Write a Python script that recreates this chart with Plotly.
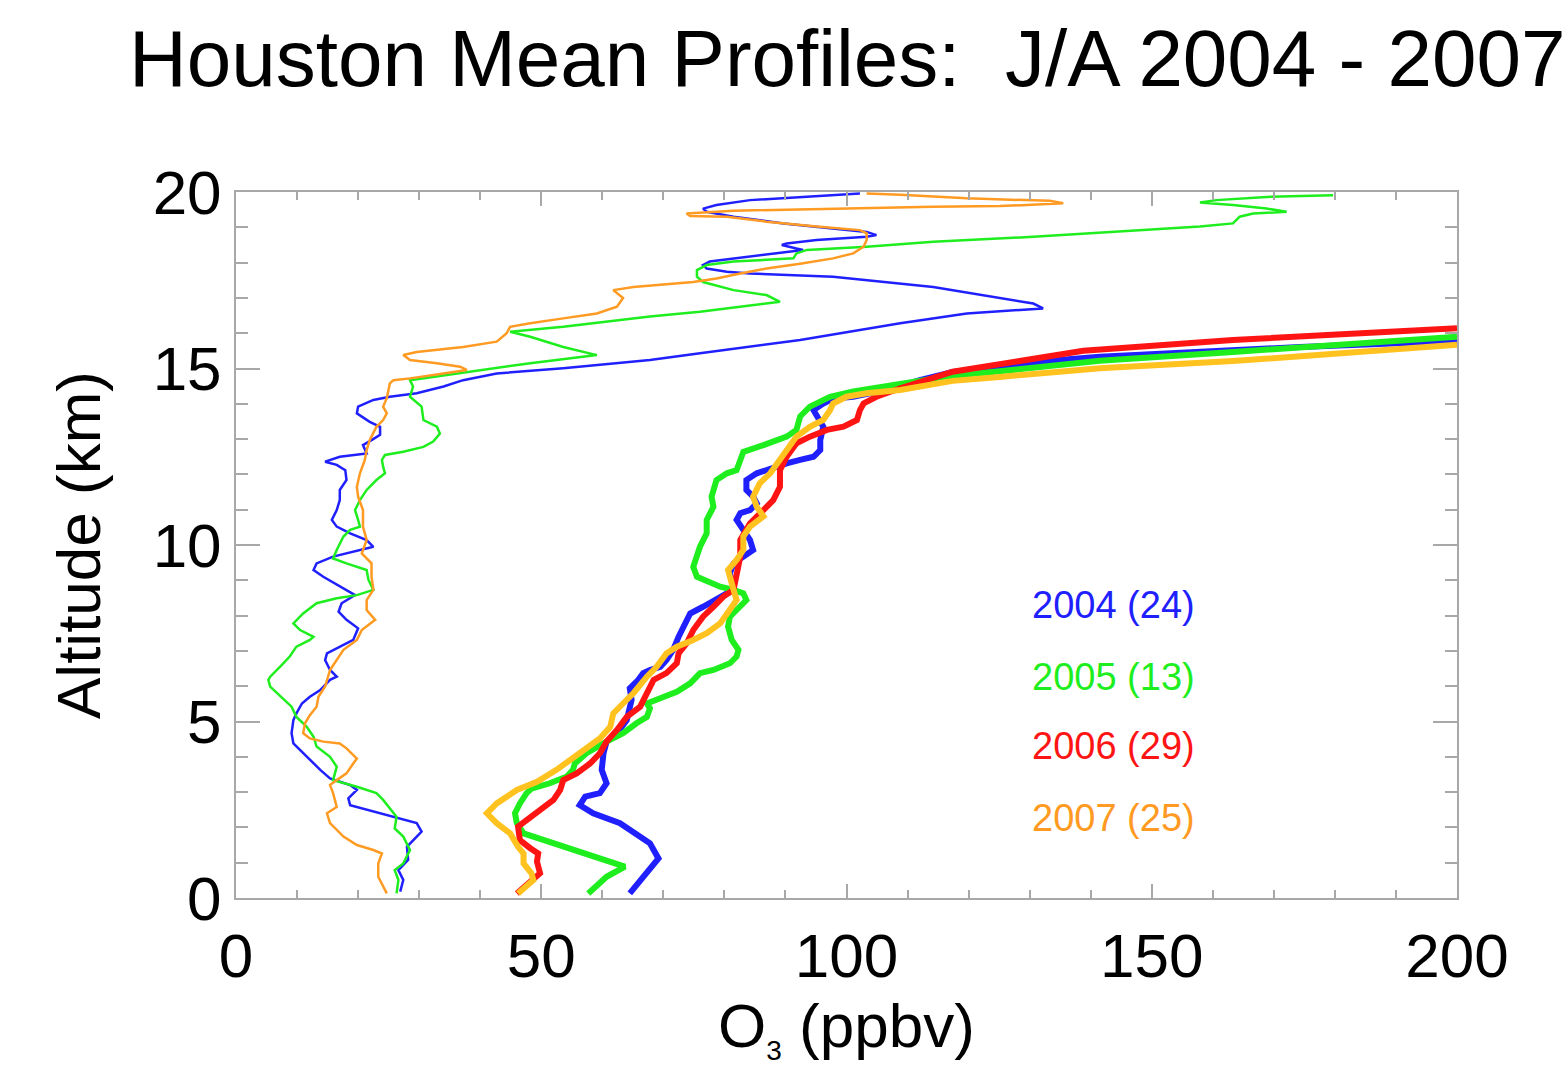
import plotly.graph_objects as go

# ---------------- data (O3 ppbv, altitude km) ----------------
# thin profiles
thin04_o3 = [26.9,27.4,26.6,28.2,28.0,28.8,30.4,29.6,26.9,22.5,18.7,18.4,19.8,18.7,15.4,13.8,12.1,10.5,9.4,9.1,9.4,9.9,10.8,12.1,13.8,15.4,16.5,15.4,14.6,14.9,17.0,19.2,20.0,18.1,16.8,17.3,19.5,17.0,14.3,12.7,13.2,15.9,19.2,22.5,21.4,18.7,16.5,15.7,16.5,17.0,17.0,18.1,17.9,16.5,14.6,17.0,21.4,20.8,22.2,23.6,23.6,21.9,19.8,20.0,22.5,25.2,29.6,34.0,37.2,42.7,53.6,59.6,67.8,76.0,92.4,108.8,119.7,132.2,130.6,114.2,97.8,84.2,80.4,77.1,76.5,77.6,84.2,91.3,92.9,91.8,89.4,90.2,95.1,103.3,104.9,103.3,97.8,89.7,81.5,77.1,76.5,78.7,84.2,92.4,102.2]
thin04_alt = [0.18,0.51,0.79,1.08,1.45,1.59,1.88,2.12,2.25,2.44,2.63,2.82,3.06,3.20,3.39,3.63,3.91,4.19,4.38,4.67,5.04,5.23,5.51,5.70,5.89,6.18,6.27,6.46,6.74,6.93,7.12,7.31,7.64,7.88,8.11,8.35,8.58,8.82,9.10,9.29,9.48,9.67,9.81,9.95,10.14,10.33,10.52,10.71,10.99,11.27,11.56,11.84,12.12,12.27,12.36,12.50,12.59,12.83,12.97,13.12,13.35,13.49,13.73,13.92,14.11,14.20,14.30,14.49,14.67,14.86,15.01,15.10,15.24,15.43,15.81,16.28,16.56,16.70,16.84,17.31,17.60,17.69,17.74,17.83,17.93,18.03,18.17,18.31,18.36,18.40,18.50,18.54,18.64,18.73,18.78,18.87,18.97,19.11,19.30,19.44,19.53,19.63,19.77,19.86,19.96]

thin05_o3 = [26.3,26.6,26.0,27.4,28.5,27.4,26.0,26.3,24.1,23.0,19.8,15.9,16.5,15.4,13.2,12.7,11.6,9.9,9.1,7.7,5.6,5.3,5.6,7.2,8.8,9.9,12.1,12.7,10.5,9.4,11.0,13.2,16.5,19.8,22.5,21.7,21.4,18.1,15.9,16.5,17.6,18.7,20.3,20.0,19.5,20.3,21.4,23.0,24.4,24.1,23.9,24.4,27.4,30.7,32.3,33.4,33.2,32.9,30.7,30.4,28.5,29.0,28.5,38.3,48.2,59.1,53.6,48.2,44.9,53.6,67.8,76.0,89.1,86.9,81.5,76.5,75.5,75.5,77.1,81.5,91.3,91.8,93.5,103.3,114.2,130.6,141.5,157.9,163.3,164.4,166.6,172.1,168.8,163.3,157.9,160.6,168.8,179.7]
thin05_alt = [0.13,0.51,0.79,0.98,1.36,1.74,1.97,2.30,2.78,2.97,3.15,3.34,3.72,4.00,4.29,4.57,4.85,5.13,5.42,5.66,5.99,6.18,6.27,6.55,6.84,7.12,7.31,7.40,7.59,7.78,8.06,8.35,8.49,8.58,8.73,9.01,9.29,9.48,9.62,9.86,10.24,10.43,10.52,10.71,10.99,11.27,11.56,11.84,12.03,12.22,12.41,12.55,12.64,12.78,12.93,13.16,13.26,13.35,13.54,13.92,14.20,14.49,14.67,14.91,15.15,15.38,15.61,15.90,16.04,16.18,16.47,16.61,16.89,17.08,17.22,17.45,17.60,17.79,17.93,18.03,18.12,18.26,18.36,18.45,18.59,18.73,18.85,19.02,19.11,19.30,19.39,19.44,19.53,19.63,19.70,19.77,19.86,19.91]

thin07_o3 = [24.7,24.1,23.3,23.3,23.9,22.5,19.8,17.6,15.4,14.9,16.5,15.9,15.4,16.5,18.1,19.2,19.8,18.1,17.0,14.3,12.1,11.0,11.3,12.1,13.2,13.5,14.6,15.4,16.5,17.6,19.8,20.6,22.8,21.4,21.4,22.5,22.2,22.2,20.6,21.4,20.8,20.8,20.0,19.8,20.3,21.1,21.4,21.9,23.0,24.1,24.7,24.1,24.7,25.2,25.8,28.5,34.0,37.8,36.7,32.9,28.5,27.4,29.6,37.2,42.7,44.3,44.9,48.2,53.6,59.1,62.4,63.4,61.8,65.1,74.9,78.7,82.6,86.9,92.4,97.8,101.1,102.8,103.3,103.3,102.2,95.1,86.9,80.4,74.4,73.8,81.5,97.8,114.2,125.1,135.5,133.3,119.7,108.8,103.3]
thin07_alt = [0.13,0.32,0.60,0.98,1.26,1.36,1.50,1.74,2.12,2.40,2.58,2.97,3.20,3.34,3.53,3.81,3.95,4.24,4.38,4.43,4.52,4.67,4.95,5.18,5.42,5.70,5.99,6.46,6.74,7.03,7.31,7.59,7.88,8.16,8.44,8.73,9.10,9.48,9.76,10.14,10.52,10.99,11.37,11.65,12.03,12.41,12.69,12.97,13.35,13.54,13.73,13.92,14.16,14.58,14.67,14.72,14.86,14.96,15.05,15.15,15.24,15.38,15.47,15.61,15.76,15.99,16.18,16.28,16.42,16.56,16.75,17.00,17.22,17.31,17.45,17.55,17.69,17.83,17.97,18.12,18.26,18.45,18.64,18.83,18.92,19.02,19.16,19.30,19.32,19.39,19.47,19.53,19.58,19.60,19.68,19.75,19.82,19.92,19.96]

# thick (mean) profiles
mean04_o3 = [64.5,67.3,69.2,67.8,62.9,58.5,56.3,57.2,59.6,60.7,59.9,60.2,60.7,62.4,64.0,64.8,64.5,65.9,66.7,67.8,69.5,70.5,71.6,72.5,73.5,74.4,76.5,78.7,80.4,81.5,80.9,81.5,83.1,84.7,84.2,83.1,82.0,82.6,84.2,85.3,84.7,83.6,83.6,85.3,87.5,90.2,92.4,94.6,95.7,95.7,96.2,95.1,94.6,96.2,97.8,101.1,104.4,107.7,112.0,117.4,125.1,133.3,141.5,157.9,174.3,200.0]
mean04_alt = [0.13,0.70,1.12,1.55,2.12,2.40,2.63,2.87,2.97,3.25,3.63,4.10,4.43,4.67,5.04,5.61,5.94,6.18,6.37,6.46,6.55,6.74,7.03,7.40,7.78,8.06,8.25,8.44,8.63,8.77,9.20,9.48,9.67,9.86,10.14,10.43,10.71,10.90,10.99,11.18,11.37,11.56,11.84,12.03,12.17,12.31,12.41,12.50,12.69,12.97,13.35,13.64,13.82,14.01,14.15,14.20,14.30,14.44,14.67,14.90,15.05,15.22,15.33,15.47,15.61,15.78]

mean05_o3 = [57.7,60.7,63.7,57.4,52.5,47.1,46.0,45.7,46.5,47.6,48.4,51.4,54.2,55.2,55.5,57.4,60.7,63.4,65.6,67.3,67.8,67.3,69.5,72.2,74.4,76.0,78.2,80.9,82.0,82.3,81.2,80.6,80.9,82.6,83.6,83.1,81.5,79.3,77.6,75.5,74.9,75.5,76.0,77.1,77.1,78.2,77.9,78.7,80.4,82.0,82.6,83.1,86.4,90.2,91.8,92.4,94.0,97.3,101.1,106.0,108.8,117.0,125.1,141.5,163.3,200.0]
mean05_alt = [0.13,0.60,0.89,1.26,1.55,1.83,2.12,2.40,2.68,2.97,3.10,3.25,3.44,3.63,3.81,4.10,4.43,4.67,4.95,5.13,5.37,5.51,5.66,5.84,6.08,6.37,6.46,6.65,6.84,7.03,7.31,7.69,7.97,8.25,8.44,8.63,8.73,8.82,8.96,9.10,9.38,9.67,9.95,10.33,10.71,11.08,11.37,11.84,12.03,12.12,12.41,12.64,12.83,13.07,13.26,13.64,13.92,14.20,14.35,14.48,14.53,14.79,14.92,15.22,15.47,15.90]

mean06_o3 = [46.0,48.4,49.8,49.3,49.5,48.2,46.5,46.2,47.6,49.8,52.0,53.1,53.6,55.8,58.0,59.6,60.7,62.4,64.0,66.2,67.3,68.4,70.5,72.2,72.5,73.8,74.9,76.5,78.2,79.8,81.5,82.0,82.6,82.6,84.2,86.4,88.0,89.1,89.1,90.2,91.8,94.0,96.8,99.5,101.7,102.2,102.8,104.9,107.1,108.8,117.4,125.1,138.8,163.3,200.0]
mean06_alt = [0.13,0.46,0.70,1.03,1.26,1.41,1.64,2.02,2.21,2.49,2.78,3.06,3.34,3.53,3.81,4.10,4.43,4.76,5.13,5.42,5.80,6.18,6.37,6.65,6.93,7.21,7.59,7.97,8.25,8.53,8.73,9.20,9.67,10.14,10.61,10.99,11.27,11.65,12.12,12.50,12.88,13.07,13.26,13.35,13.54,13.82,14.01,14.20,14.35,14.44,14.91,15.13,15.50,15.81,16.14]

mean07_o3 = [46.2,48.7,48.4,47.1,47.1,46.2,44.9,42.7,41.1,42.7,46.0,49.3,52.5,54.7,56.9,59.6,61.3,61.8,63.4,65.1,67.3,68.9,70.5,72.2,74.9,77.1,79.3,80.9,82.0,81.5,80.9,80.6,82.0,83.1,83.1,84.2,86.4,85.3,84.7,85.8,87.5,88.6,90.2,91.8,94.0,96.2,97.3,97.8,100.0,103.3,108.8,117.4,125.1,141.5,163.3,200.0]
mean07_alt = [0.13,0.51,0.70,0.98,1.26,1.45,1.83,2.12,2.40,2.68,3.06,3.29,3.63,3.91,4.19,4.52,4.85,5.23,5.51,5.80,6.27,6.55,6.93,7.12,7.31,7.50,7.78,8.16,8.44,8.73,9.10,9.29,9.58,9.86,10.24,10.52,10.81,11.08,11.37,11.75,12.03,12.31,12.69,13.07,13.35,13.54,13.82,14.01,14.20,14.30,14.39,14.65,14.76,15.01,15.21,15.67]

legend_labels = ["2004 (24)", "2005 (13)", "2006 (29)", "2007 (25)"]
legend_alt = [8.30, 6.26, 4.31, 2.27]

title_text = "Houston Mean Profiles:\u00a0\u00a0J/A 2004 - 2007"

# ---------------- styles ----------------
BLUE = "#2020ff"
GREEN = "#1eee1e"
RED = "#ff1414"
ORANGE = "#ff9a22"
GOLD = "#ffc21e"
FONT = "Liberation Sans, Arial, Helvetica, sans-serif"

fig = go.Figure()

thin = [(thin04_o3, thin04_alt, BLUE), (thin05_o3, thin05_alt, GREEN), (thin07_o3, thin07_alt, ORANGE)]
for xs, ys, c in thin:
    fig.add_trace(go.Scatter(x=xs, y=ys, mode="lines", line=dict(color=c, width=2.5),
                             showlegend=False, hoverinfo="skip"))

thick = [(mean04_o3, mean04_alt, BLUE), (mean05_o3, mean05_alt, GREEN),
         (mean06_o3, mean06_alt, RED), (mean07_o3, mean07_alt, GOLD)]
for xs, ys, c in thick:
    fig.add_trace(go.Scatter(x=xs, y=ys, mode="lines", line=dict(color=c, width=6),
                             showlegend=False, hoverinfo="skip"))

leg_colors = [BLUE, GREEN, RED, ORANGE]
annotations = []
for lab, yv, c in zip(legend_labels, legend_alt, leg_colors):
    annotations.append(dict(x=130.1, y=yv, xref="x", yref="y", text=lab, showarrow=False,
                            xanchor="left", yanchor="middle",
                            font=dict(family=FONT, size=38, color=c)))

W, H = 1566, 1070
L, R, T, B = 236, 1457, 192, 898
pw, ph = R - L, B - T

def px(xp):
    return (xp - L) / pw

def py(yp):
    return (B - yp) / ph

annotations.append(dict(x=px(127), y=py(58), xref="paper", yref="paper", text=title_text,
                        showarrow=False, xanchor="left", yanchor="middle",
                        font=dict(family=FONT, size=80, color="black")))
annotations.append(dict(x=0.5, y=py(1028), xref="paper", yref="paper",
                        text="O<sub><span style='font-size:28px'>3</span></sub> (ppbv)", showarrow=False,
                        xanchor="center", yanchor="middle",
                        font=dict(family=FONT, size=62, color="black")))
annotations.append(dict(x=px(78), y=0.5, xref="paper", yref="paper",
                        text="Altitude (km)", textangle=-90, showarrow=False,
                        xanchor="center", yanchor="middle",
                        font=dict(family=FONT, size=62, color="black")))

AX = "#a8a8a8"
fig.update_layout(
    width=W, height=H,
    margin=dict(l=L, r=W - R, t=T, b=H - B),
    paper_bgcolor="white", plot_bgcolor="white",
    showlegend=False,
    annotations=annotations,
    xaxis=dict(range=[0, 200], tickvals=[0, 50, 100, 150, 200], showgrid=False, zeroline=False,
               showline=True, linecolor=AX, linewidth=2, mirror="ticks",
               ticks="inside", ticklen=14, tickwidth=1.5, tickcolor=AX,
               minor=dict(dtick=10, ticks="inside", ticklen=8, tickwidth=1.5, tickcolor=AX),
               tickfont=dict(family=FONT, size=62, color="black"), ticklabelstandoff=3),
    yaxis=dict(range=[0, 20], tickvals=[0, 5, 10, 15, 20], showgrid=False, zeroline=False,
               showline=True, linecolor=AX, linewidth=2, mirror="ticks",
               ticks="inside", ticklen=24, tickwidth=1.5, tickcolor=AX,
               minor=dict(dtick=1, ticks="inside", ticklen=12, tickwidth=1.5, tickcolor=AX),
               tickfont=dict(family=FONT, size=62, color="black"), ticklabelstandoff=0),
)

fig.write_html("out.html")
